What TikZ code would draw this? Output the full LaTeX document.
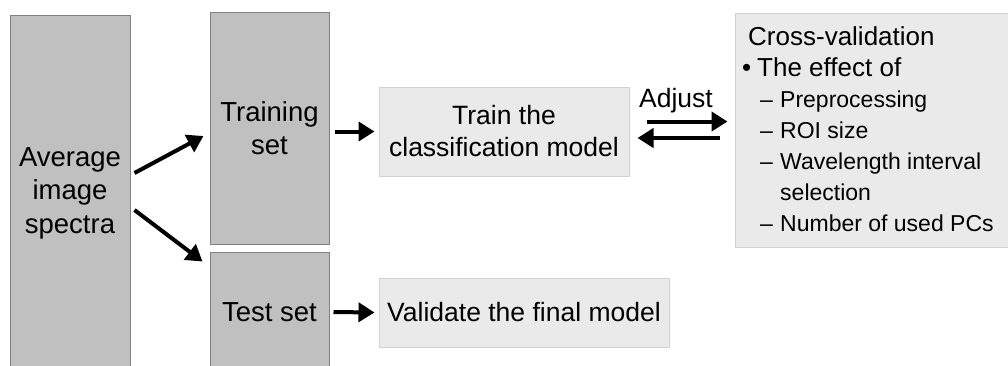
\documentclass[tikz,border=0pt]{standalone}
\usepackage{fontspec}
\setmainfont{Liberation Sans}
\usetikzlibrary{arrows.meta}
\definecolor{darkfill}{HTML}{C0C0C0}
\definecolor{darkline}{HTML}{808080}
\definecolor{lightfill}{HTML}{EAEAEA}
\definecolor{lightline}{HTML}{D2D2D2}
\tikzset{
  darkbox/.style={draw=darkline, fill=darkfill, line width=1pt, inner sep=0pt, align=center,
    font=\fontsize{27.5}{33.5}\selectfont},
  lightbox/.style={draw=lightline, fill=lightfill, line width=1pt, inner sep=0pt, align=center,
    font=\fontsize{26.5}{32}\selectfont},
  arr/.style={line width=4pt, -{Triangle[length=16pt,width=19pt]}},
}
\begin{document}
\begin{tikzpicture}[x=1pt,y=-1pt]
\useasboundingbox (0,0) rectangle (1008,365);
\fill[white] (0,0) rectangle (1008,365);
\clip (0,0) rectangle (1008,365);

\node[darkbox, minimum width=120pt, minimum height=356pt] (avg) at (70,193) {Average\\image\\spectra};
\node[darkbox, minimum width=119pt, minimum height=232pt] (training) at (269.5,128) {Training\\set};
\node[darkbox, minimum width=119pt, minimum height=120pt] (test) at (269.5,312) {Test set};
\node[lightbox, minimum width=250pt, minimum height=89pt] (train) at (504,131.5) {Train the\\classification model};
\node[lightbox, minimum width=290pt, minimum height=69pt] (val) at (524,312.5) {Validate the final model};
\node[lightbox, minimum width=285pt, minimum height=234pt] (cv) at (877.5,130) {};

\node[anchor=north west, inner sep=0pt, align=left, font=\fontsize{23}{31}\selectfont] (cvtext) at (742,26)
  {{\fontsize{26}{31}\selectfont\hspace*{6pt}Cross-validation}\\
   {\fontsize{26}{31}\selectfont\makebox[15pt][l]{•}The effect of}\\
   \makebox[38pt][l]{\hspace*{18pt}–}Preprocessing\\
   \makebox[38pt][l]{\hspace*{18pt}–}ROI size\\
   \makebox[38pt][l]{\hspace*{18pt}–}Wavelength interval\\
   \hspace*{38pt}selection\\
   \makebox[38pt][l]{\hspace*{18pt}–}Number of used PCs};

\draw[arr] ([shift={(4,-20)}]avg.east) -- ([shift={(-6,8)}]training.west);
\draw[arr] ([shift={(4,17)}]avg.east) -- ([shift={(-7,10)}]test.north west);
\draw[arr] ([xshift=5pt]training.east |- train.west) -- ([xshift=-4pt]train.west);
\draw[arr] ([xshift=4pt]test.east) -- ([xshift=-4pt]val.west);
\draw[arr] ([shift={(17,-10)}]train.east) -- ([shift={(-7,-8.5)}]cv.west);
\draw[arr] ([shift={(-15,8)}]cv.west) -- ([shift={(8,6.5)}]train.east);
\node[inner sep=0pt, font=\fontsize{26.5}{32}\selectfont, anchor=base] (adj) at (676,107) {Adjust};
\end{tikzpicture}
\end{document}
